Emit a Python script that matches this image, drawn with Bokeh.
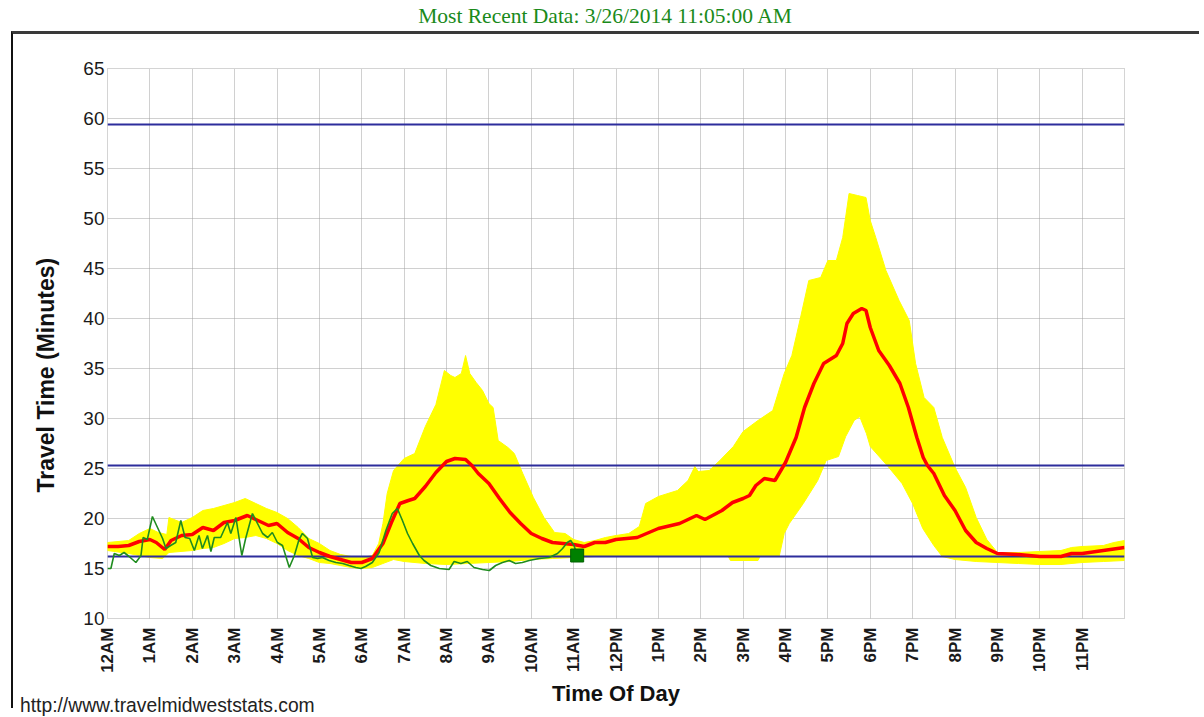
import math
from bokeh.plotting import figure
from bokeh.models import Range1d, FixedTicker, Div, Title
from bokeh.layouts import column
from bokeh.embed import file_html
from bokeh.resources import INLINE

# ---------------- data ----------------
hour_ticks = list(range(24))
hour_labels = ["12AM", "1AM", "2AM", "3AM", "4AM", "5AM", "6AM", "7AM", "8AM", "9AM", "10AM", "11AM",
               "12PM", "1PM", "2PM", "3PM", "4PM", "5PM", "6PM", "7PM", "8PM", "9PM", "10PM", "11PM"]
minute_ticks = [10, 15, 20, 25, 30, 35, 40, 45, 50, 55, 60, 65]
threshold_levels = [59.4, 25.3, 16.2]

mean_hours = [0, 0.25, 0.5, 0.75, 1.0, 1.15, 1.35, 1.5, 1.75, 2.0, 2.25, 2.5, 2.75, 3.0, 3.3, 3.55, 3.8, 4.0,
              4.25, 4.5, 4.75, 5.0, 5.25, 5.5, 5.75, 6.0, 6.25, 6.5, 6.7, 6.9, 7.1, 7.25, 7.5, 7.75, 8.0, 8.2,
              8.45, 8.6, 8.75, 9.0, 9.25, 9.5, 9.75, 10.0, 10.25, 10.5, 10.75, 11.0, 11.25, 11.5, 11.75, 12.0,
              12.5, 13.0, 13.5, 13.9, 14.1, 14.5, 14.75, 15.0, 15.15, 15.3, 15.5, 15.75, 16.0, 16.25, 16.45,
              16.67, 16.9, 17.2, 17.35, 17.45, 17.6, 17.8, 17.9, 18.0, 18.2, 18.45, 18.7, 18.9, 19.1, 19.25,
              19.35, 19.5, 19.75, 20.0, 20.25, 20.5, 20.75, 21.0, 21.5, 22.0, 22.5, 22.75, 23.0, 23.5, 24.0]
mean_minutes = [17.2, 17.2, 17.3, 17.7, 17.9, 17.6, 16.9, 17.8, 18.3, 18.4, 19.1, 18.8, 19.6, 19.8, 20.3, 19.8,
                19.3, 19.5, 18.6, 18.0, 17.1, 16.6, 16.2, 15.9, 15.6, 15.6, 16.0, 17.5, 19.6, 21.5, 21.8, 22.0,
                23.2, 24.6, 25.7, 26.0, 25.9, 25.3, 24.5, 23.5, 22.0, 20.6, 19.5, 18.5, 18.0, 17.6, 17.5, 17.4,
                17.2, 17.6, 17.6, 17.9, 18.1, 19.0, 19.5, 20.3, 19.9, 20.8, 21.6, 22.0, 22.3, 23.3, 24.0, 23.8,
                25.6, 28.1, 31.1, 33.5, 35.5, 36.3, 37.5, 39.5, 40.5, 41.0, 40.8, 39.1, 36.8, 35.3, 33.5, 31.1,
                28.1, 26.1, 25.3, 24.5, 22.3, 20.8, 18.8, 17.6, 17.0, 16.5, 16.4, 16.2, 16.2, 16.5, 16.5, 16.8,
                17.1]

upper_hours = [0, 0.5, 0.75, 1.0, 1.2, 1.4, 1.45, 1.75, 2.0, 2.25, 2.5, 2.75, 3.0, 3.25, 3.5, 3.75, 4.0, 4.25,
               4.5, 4.75, 5.0, 5.25, 5.5, 5.75, 6.0, 6.25, 6.4, 6.5, 6.6, 6.75, 7.0, 7.25, 7.5, 7.75, 7.95, 8.1,
               8.2, 8.35, 8.45, 8.55, 8.7, 8.85, 9.0, 9.1, 9.22, 9.45, 9.6, 9.8, 10.05, 10.3, 10.55, 10.8, 11.0,
               11.25, 11.5, 11.75, 12.0, 12.3, 12.55, 12.7, 13.0, 13.45, 13.7, 13.86, 13.94, 14.2, 14.45, 14.77,
               15.0, 15.35, 15.7, 15.97, 16.15, 16.35, 16.55, 16.83, 17.0, 17.2, 17.35, 17.5, 17.7, 17.9, 18.0,
               18.13, 18.37, 18.68, 18.92, 19.07, 19.27, 19.5, 19.7, 20.0, 20.25, 20.5, 20.75, 21.0, 21.5, 22.0,
               22.5, 22.75, 23.0, 23.5, 23.75, 24.0]
upper_minutes = [17.6, 17.8, 18.5, 19.0, 18.6, 18.4, 20.1, 19.6, 20.1, 20.8, 21.0, 21.3, 21.6, 22.0, 21.5, 21.0,
                 20.6, 20.0, 19.1, 18.0, 17.5, 16.8, 16.4, 16.2, 16.1, 16.3, 17.5, 19.5, 22.5, 24.8, 26.0, 26.5,
                 29.2, 31.4, 34.8, 34.3, 34.1, 34.5, 36.3, 34.5, 33.6, 32.8, 31.5, 31.1, 27.8, 27.1, 26.5, 24.5,
                 22.1, 20.1, 18.6, 18.5, 17.9, 17.6, 17.8, 18.1, 18.3, 18.5, 19.2, 21.5, 22.2, 22.8, 23.8, 25.2,
                 24.7, 24.8, 25.8, 27.2, 28.7, 29.8, 30.8, 34.5, 36.3, 40.0, 43.8, 44.1, 45.8, 45.8, 48.1, 52.5,
                 52.3, 52.1, 49.8, 48.1, 44.8, 41.8, 39.8, 35.5, 32.1, 31.1, 28.1, 25.1, 23.1, 20.1, 17.9, 16.6,
                 16.6, 16.7, 16.8, 17.1, 17.2, 17.3, 17.6, 17.8]

lower_hours = [0, 0.5, 0.75, 1.0, 1.3, 1.45, 2.0, 2.25, 2.5, 2.75, 3.0, 3.25, 3.5, 3.75, 4.0, 4.25, 4.5, 4.75,
               5.0, 5.25, 5.5, 5.75, 6.0, 6.25, 6.5, 6.75, 7.0, 7.5, 8.0, 8.5, 9.0, 9.5, 10.0, 10.5, 11.0, 11.5,
               12.0, 13.0, 14.0, 14.65, 14.7, 15.35, 15.4, 15.85, 15.97, 16.09, 16.42, 16.76, 16.96, 17.25,
               17.42, 17.62, 17.75, 17.91, 18.0, 18.42, 18.75, 19.0, 19.24, 19.5, 19.7, 20.0, 20.5, 21.0, 21.5,
               22.0, 22.5, 23.0, 23.5, 24.0]
lower_minutes = [16.8, 16.5, 16.3, 16.1, 16.0, 16.6, 16.8, 17.0, 17.1, 17.5, 18.0, 18.1, 18.3, 18.0, 17.5, 16.8,
                 16.3, 16.0, 15.6, 15.5, 15.3, 15.1, 15.0, 15.1, 15.5, 15.9, 15.7, 15.5, 15.4, 15.5, 15.6, 15.7,
                 15.9, 16.0, 16.1, 16.2, 16.2, 16.2, 16.2, 16.2, 15.8, 15.8, 16.2, 16.2, 18.5, 19.5, 21.5, 23.8,
                 25.8, 26.2, 28.2, 29.8, 30.2, 28.5, 27.2, 25.2, 23.5, 21.5, 19.0, 17.3, 16.2, 15.9, 15.7, 15.6,
                 15.5, 15.4, 15.4, 15.6, 15.7, 15.8]

today_hours = [0, 0.08, 0.16, 0.28, 0.39, 0.51, 0.67, 0.79, 0.84, 0.94, 1.06, 1.18, 1.30, 1.38, 1.49, 1.61,
               1.73, 1.83, 1.94, 2.05, 2.16, 2.24, 2.36, 2.44, 2.52, 2.67, 2.83, 2.91, 3.03, 3.17, 3.26, 3.42,
               3.54, 3.66, 3.78, 3.89, 4.01, 4.13, 4.29, 4.41, 4.52, 4.60, 4.72, 4.84, 4.96, 5.07, 5.23, 5.39,
               5.55, 5.70, 5.86, 5.98, 6.09, 6.25, 6.41, 6.57, 6.72, 6.84, 6.96, 7.08, 7.20, 7.36, 7.47, 7.63,
               7.83, 8.06, 8.18, 8.34, 8.49, 8.65, 8.85, 9.01, 9.16, 9.32, 9.48, 9.63, 9.79, 9.95, 10.19, 10.42,
               10.62, 10.74, 10.85, 10.93, 11.01, 11.08]
today_minutes = [15.0, 15.0, 16.5, 16.3, 16.6, 16.2, 15.6, 16.3, 18.1, 17.9, 20.2, 19.1, 18.0, 17.0, 17.3, 17.6,
                 19.8, 18.1, 18.0, 16.8, 18.3, 17.0, 18.3, 16.7, 18.1, 18.1, 19.6, 18.5, 20.1, 16.3, 18.0, 20.5,
                 19.5, 18.5, 18.1, 18.6, 17.6, 17.3, 15.1, 16.3, 17.9, 18.5, 18.0, 16.1, 16.0, 16.1, 15.8, 15.6,
                 15.5, 15.3, 15.1, 15.0, 15.2, 15.6, 16.6, 18.8, 20.5, 21.0, 19.8, 18.5, 17.5, 16.3, 15.8, 15.3,
                 15.0, 14.9, 15.7, 15.5, 15.7, 15.1, 14.9, 14.8, 15.3, 15.6, 15.8, 15.5, 15.6, 15.8, 16.0, 16.1,
                 16.5, 17.0, 17.6, 17.8, 17.3, 16.3]

latest_hour = [11 + 5 / 60]
latest_minutes = [16.3]

title_text = "Most Recent Data: 3/26/2014 11:05:00 AM"
url_text = "http://www.travelmidweststats.com"

# ---------------- figure ----------------
p = figure(width=1188, height=677, x_range=Range1d(0, 24), y_range=Range1d(10, 65),
           output_backend="svg", toolbar_location=None,
           min_border_left=107, min_border_right=64, min_border_top=36, min_border_bottom=91)
p.background_fill_color = "white"
p.border_fill_color = "white"
p.outline_line_color = "#a8a8a8"
p.outline_line_dash = "1 1"

band_x = upper_hours + lower_hours[::-1]
band_y = upper_minutes + lower_minutes[::-1]
p.patch(band_x, band_y, fill_color="#ffff00", line_color="#ffff00", line_width=1)

p.hspan(y=threshold_levels, line_color="#2d2d9c", line_width=2)
p.line(mean_hours, mean_minutes, line_color="#ff0000", line_width=3.5)
p.line(today_hours, today_minutes, line_color="#1f8c1f", line_width=1.6)
p.scatter(latest_hour, latest_minutes, marker="square", size=13,
          fill_color="#008000", line_color="#006000")

# axes
p.xaxis.ticker = FixedTicker(ticks=hour_ticks)
p.xaxis.major_label_overrides = {h: lab for h, lab in zip(hour_ticks, hour_labels)}
p.xaxis.major_label_orientation = math.pi / 2
p.yaxis.ticker = FixedTicker(ticks=minute_ticks)
for ax in (p.xaxis[0], p.yaxis[0]):
    ax.axis_line_color = None
    ax.major_tick_line_color = None
    ax.minor_tick_line_color = None
    ax.major_tick_in = 0
    ax.major_tick_out = 0
    ax.major_label_text_font = "Liberation Sans"
    ax.major_label_text_color = "#1a1a1a"
p.xaxis.major_label_text_font_size = "17px"
p.xaxis.major_label_text_font_style = "bold"
p.xaxis.major_label_standoff = 9
p.yaxis.major_label_text_font_size = "19px"
p.yaxis.major_label_standoff = 3

p.xaxis.axis_label = "Time Of Day"
p.xaxis.axis_label_standoff = 5
p.xaxis.axis_label_text_font = "Liberation Sans"
p.xaxis.axis_label_text_font_style = "bold"
p.xaxis.axis_label_text_font_size = "22px"
p.xaxis.axis_label_text_color = "#111111"

ylab = Title(text="Travel Time (Minutes)", align="left", offset=126, standoff=43,
             text_font="Liberation Sans", text_font_style="bold", text_font_size="23px",
             text_color="#111111")
p.add_layout(ylab, "left")

p.grid.grid_line_color = "#a0a0a0"
p.grid.grid_line_dash = "1 1"
p.grid.grid_line_width = 1

# page texts and frame
title_div = Div(text=title_text, width=1188, height=22,
                styles={"font-family": "Liberation Serif", "font-size": "21.5px", "color": "#1a8a1a",
                        "text-align": "center", "line-height": "22px", "text-indent": "12px"})
url_div = Div(text=url_text,
              styles={"position": "absolute", "left": "15px", "top": "693px",
                      "font-family": "Liberation Sans", "font-size": "19.3px", "color": "#222222",
                      "line-height": "16px", "white-space": "nowrap"})
frame_div = Div(text="", width=1188, height=677,
                styles={"position": "absolute", "left": "6px", "top": "26px", "box-sizing": "border-box",
                        "border-top": "3px solid #3a3a3a", "border-left": "2px solid #111111",
                        "pointer-events": "none"})

layout = column(title_div, p, url_div, frame_div, styles={"position": "relative"})

open("out.html", "w").write(file_html(layout, INLINE))
